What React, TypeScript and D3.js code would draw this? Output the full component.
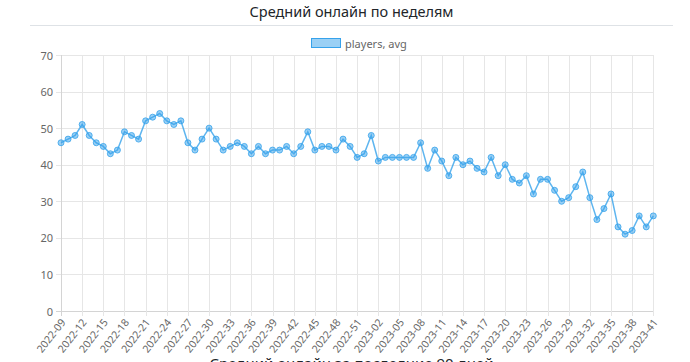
import { useEffect, useRef } from "react";
import * as d3 from "d3";

// weekly labels, ISO year-week
const weeks = [
  "2022-09", "2022-10", "2022-11", "2022-12", "2022-13", "2022-14", "2022-15", "2022-16",
  "2022-17", "2022-18", "2022-19", "2022-20", "2022-21", "2022-22", "2022-23", "2022-24",
  "2022-25", "2022-26", "2022-27", "2022-28", "2022-29", "2022-30", "2022-31", "2022-32",
  "2022-33", "2022-34", "2022-35", "2022-36", "2022-37", "2022-38", "2022-39", "2022-40",
  "2022-41", "2022-42", "2022-43", "2022-44", "2022-45", "2022-46", "2022-47", "2022-48",
  "2022-49", "2022-50", "2022-51", "2022-52", "2023-01", "2023-02", "2023-03", "2023-04",
  "2023-05", "2023-06", "2023-07", "2023-08", "2023-09", "2023-10", "2023-11", "2023-12",
  "2023-13", "2023-14", "2023-15", "2023-16", "2023-17", "2023-18", "2023-19", "2023-20",
  "2023-21", "2023-22", "2023-23", "2023-24", "2023-25", "2023-26", "2023-27", "2023-28",
  "2023-29", "2023-30", "2023-31", "2023-32", "2023-33", "2023-34", "2023-35", "2023-36",
  "2023-37", "2023-38", "2023-39", "2023-40", "2023-41",
];

const playersAvg = [
  46, 47, 48, 51, 48, 46, 45, 43, 44, 49, 48, 47, 52, 53, 54, 52, 51, 52, 46, 44,
  47, 50, 47, 44, 45, 46, 45, 43, 45, 43, 44, 44, 45, 43, 45, 49, 44, 45, 45, 44,
  47, 45, 42, 43, 48, 41, 42, 42, 42, 42, 42, 46, 39, 44, 41, 37, 42, 40, 41, 39,
  38, 42, 37, 40, 36, 35, 37, 32, 36, 36, 33, 30, 31, 34, 38, 31, 25, 28, 32, 23,
  21, 22, 26, 23, 26,
];

const yTicks = [0, 10, 20, 30, 40, 50, 60, 70];

const title = "Средний онлайн по неделям";
const nextTitle = "Средний онлайн за последние 90 дней";
const seriesName = "players, avg";

const App = () => {
  const svgRef = useRef(null);

  useEffect(() => {
    document.body.style.margin = "0";
    const svg = d3.select(svgRef.current);
    svg.selectAll("*").remove();

    const font = "'Noto Sans', sans-serif";
    const left = 61;
    const right = 653.3;
    const top = 55;
    const bottom = 311;

    const xScale = d3.scalePoint().domain(weeks).range([left, right]);
    const yScale = d3.scaleLinear().domain([0, 70]).range([bottom, top]);

    // card header
    svg
      .append("text")
      .attr("x", 351.5)
      .attr("y", 17)
      .attr("text-anchor", "middle")
      .attr("font-family", font)
      .attr("font-size", 14.5)
      .attr("fill", "#212529")
      .text(title);

    svg
      .append("line")
      .attr("x1", 30)
      .attr("x2", 673)
      .attr("y1", 25.5)
      .attr("y2", 25.5)
      .attr("stroke", "#dee2e6");

    // legend
    svg
      .append("rect")
      .attr("x", 311.5)
      .attr("y", 38.5)
      .attr("width", 29)
      .attr("height", 9)
      .attr("fill", "rgba(54, 162, 235, 0.5)")
      .attr("stroke", "rgb(54, 162, 235)");

    svg
      .append("text")
      .attr("x", 345)
      .attr("y", 43)
      .attr("dominant-baseline", "central")
      .attr("font-family", font)
      .attr("font-size", 11)
      .attr("fill", "#666")
      .text(seriesName);

    const shownWeeks = weeks.filter((d, i) => i % 3 === 0);

    // grid
    svg
      .append("g")
      .selectAll("line")
      .data(yTicks)
      .join("line")
      .attr("x1", left - 5)
      .attr("x2", right)
      .attr("y1", (d) => Math.round(yScale(d)) + 0.5)
      .attr("y2", (d) => Math.round(yScale(d)) + 0.5)
      .attr("stroke", (d) => (d === 0 ? "#d4d4d4" : "#e6e6e6"));

    svg
      .append("g")
      .selectAll("line")
      .data(shownWeeks)
      .join("line")
      .attr("x1", (d) => Math.round(xScale(d)) + 0.5)
      .attr("x2", (d) => Math.round(xScale(d)) + 0.5)
      .attr("y1", top)
      .attr("y2", bottom + 5)
      .attr("stroke", (d, i) => (i === 0 ? "#d4d4d4" : "#e6e6e6"));

    // y labels
    svg
      .append("g")
      .selectAll("text")
      .data(yTicks)
      .join("text")
      .attr("x", left - 8)
      .attr("y", (d) => yScale(d))
      .attr("text-anchor", "end")
      .attr("dominant-baseline", "central")
      .attr("font-family", font)
      .attr("font-size", 11)
      .attr("fill", "#666")
      .text((d) => d);

    // x labels, rotated like chart.js does
    svg
      .append("g")
      .selectAll("text")
      .data(shownWeeks)
      .join("text")
      .attr("transform", (d) => `translate(${xScale(d) + 2}, ${bottom + 9}) rotate(-52)`)
      .attr("text-anchor", "end")
      .attr("dominant-baseline", "central")
      .attr("font-family", font)
      .attr("font-size", 10.5)
      .attr("fill", "#666")
      .text((d) => d);

    const line = d3
      .line()
      .x((d, i) => xScale(weeks[i]))
      .y((d) => yScale(d));

    svg
      .append("path")
      .datum(playersAvg)
      .attr("d", line)
      .attr("fill", "none")
      .attr("stroke", "rgb(54, 162, 235)")
      .attr("stroke-opacity", 0.8)
      .attr("stroke-width", 1.5);

    svg
      .append("g")
      .selectAll("circle")
      .data(playersAvg)
      .join("circle")
      .attr("cx", (d, i) => xScale(weeks[i]))
      .attr("cy", (d) => yScale(d))
      .attr("r", 3)
      .attr("fill", "rgba(54, 162, 235, 0.5)")
      .attr("stroke", "rgb(54, 162, 235)")
      .attr("stroke-opacity", 0.8)
      .attr("stroke-width", 1);

    // next card title, cut by the window edge
    svg
      .append("text")
      .attr("x", 351.5)
      .attr("y", 368.5)
      .attr("text-anchor", "middle")
      .attr("font-family", font)
      .attr("font-size", 15)
      .attr("fill", "#212529")
      .text(nextTitle);
  }, []);

  return <svg ref={svgRef} width={690} height={362} style={{ display: "block" }}></svg>;
};

export default App;
